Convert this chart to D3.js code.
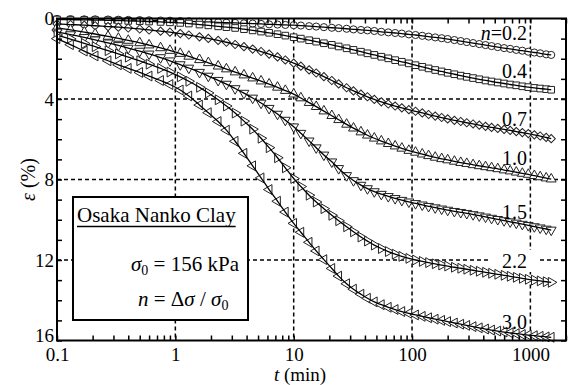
<!DOCTYPE html>
<html>
<head>
<meta charset="utf-8">
<script src="https://cdn.jsdelivr.net/npm/d3@7"></script>
<style>
  body { margin: 0; background: #fff; }
  svg { display: block; }
  text { font-family: "Liberation Serif", "Times New Roman", serif; fill: #000; }
</style>
</head>
<body>
<svg id="chart" width="574" height="385"></svg>
<script>
// Elapsed time of each reading (min)
const times = [0.1,0.13,0.17,0.21,0.27,0.33,0.4,0.5,0.6,0.75,0.9,1.1,1.3,1.6,1.9,2.3,2.7,3.2,3.8,4.5,
  5.3,6.2,7.3,8.5,10,11.5,13.5,15.5,18,21,24,28,32,37,42,48,55,63,72,82,
  94,107,122,138,157,178,200,228,258,290,328,370,418,470,530,600,675,760,855,960,
  1080,1210,1360,1500];

// Axial strain (%) for each load increment ratio n
const strainN02 = [0.02,0.03,0.04,0.04,0.05,0.06,0.07,0.08,0.09,0.10,
  0.11,0.13,0.14,0.16,0.18,0.19,0.21,0.22,0.24,0.25,
  0.27,0.29,0.30,0.32,0.33,0.35,0.38,0.40,0.43,0.46,
  0.48,0.51,0.54,0.57,0.59,0.62,0.66,0.69,0.72,0.75,
  0.79,0.82,0.86,0.90,0.94,0.98,1.02,1.07,1.12,1.17,
  1.22,1.27,1.32,1.37,1.42,1.47,1.51,1.56,1.60,1.65,
  1.69,1.73,1.78,1.81];
const strainN04 = [0.05,0.06,0.07,0.08,0.09,0.10,0.12,0.13,0.15,0.17,
  0.19,0.22,0.25,0.30,0.34,0.39,0.43,0.47,0.53,0.59,
  0.65,0.71,0.78,0.85,0.93,1.00,1.08,1.15,1.23,1.31,
  1.39,1.48,1.56,1.65,1.73,1.81,1.90,1.98,2.07,2.15,
  2.23,2.32,2.40,2.48,2.56,2.63,2.70,2.77,2.84,2.90,
  2.96,3.02,3.08,3.13,3.18,3.23,3.28,3.32,3.37,3.41,
  3.45,3.48,3.51,3.54];
const strainN07 = [0.27,0.30,0.33,0.36,0.40,0.43,0.47,0.52,0.57,0.63,
  0.68,0.75,0.82,0.91,0.99,1.09,1.18,1.29,1.40,1.52,
  1.64,1.77,1.91,2.06,2.22,2.37,2.55,2.71,2.89,3.08,
  3.25,3.44,3.60,3.76,3.89,4.02,4.14,4.25,4.35,4.44,
  4.53,4.61,4.69,4.77,4.85,4.92,4.99,5.06,5.12,5.18,
  5.24,5.30,5.36,5.41,5.46,5.51,5.56,5.62,5.67,5.72,
  5.78,5.84,5.91,5.97];
const strainN10 = [0.47,0.57,0.68,0.77,0.89,0.99,1.09,1.21,1.32,1.46,
  1.59,1.74,1.88,2.05,2.20,2.37,2.51,2.66,2.81,2.96,
  3.11,3.26,3.42,3.58,3.76,3.95,4.18,4.38,4.60,4.83,
  5.03,5.26,5.45,5.64,5.80,5.95,6.09,6.22,6.34,6.45,
  6.56,6.65,6.74,6.82,6.90,6.97,7.03,7.10,7.16,7.21,
  7.27,7.32,7.37,7.42,7.47,7.53,7.58,7.64,7.70,7.75,
  7.81,7.87,7.93,7.98];
const strainN15 = [0.67,0.80,0.94,1.06,1.21,1.34,1.47,1.62,1.76,1.94,
  2.10,2.29,2.46,2.67,2.86,3.07,3.26,3.48,3.71,3.95,
  4.20,4.46,4.75,5.05,5.38,5.70,6.08,6.42,6.78,7.12,
  7.45,7.80,8.05,8.28,8.45,8.60,8.73,8.84,8.94,9.03,
  9.11,9.19,9.26,9.33,9.40,9.46,9.52,9.58,9.63,9.68,
  9.74,9.80,9.86,9.92,9.98,10.04,10.10,10.16,10.22,10.28,
  10.34,10.40,10.46,10.51];
const strainN22 = [0.82,1.02,1.24,1.40,1.60,1.76,1.92,2.10,2.27,2.48,
  2.66,2.90,3.12,3.42,3.70,4.04,4.35,4.70,5.10,5.50,
  5.95,6.42,6.92,7.42,7.95,8.35,8.78,9.12,9.45,9.78,
  10.05,10.35,10.60,10.86,11.06,11.26,11.43,11.58,11.71,11.82,
  11.92,12.00,12.07,12.13,12.19,12.25,12.30,12.36,12.41,12.46,
  12.51,12.56,12.61,12.66,12.71,12.76,12.81,12.86,12.91,12.96,
  13.00,13.04,13.08,13.11];
const strainN30 = [1.00,1.30,1.62,1.86,2.10,2.30,2.48,2.68,2.86,3.08,
  3.28,3.55,3.85,4.30,4.68,5.12,5.55,6.10,6.70,7.32,
  7.92,8.50,9.08,9.62,10.18,10.62,11.12,11.55,11.98,12.42,
  12.80,13.18,13.45,13.70,13.90,14.08,14.22,14.35,14.46,14.56,
  14.65,14.73,14.80,14.87,14.94,15.00,15.06,15.13,15.19,15.25,
  15.31,15.37,15.43,15.48,15.53,15.58,15.62,15.66,15.70,15.73,
  15.76,15.79,15.82,15.84];

const loadRatios = ["0.2", "0.4", "0.7", "1.0", "1.5", "2.2", "3.0"];
const xTickValues = [0.1, 1, 10, 100, 1000];
const yTickValues = [0, 4, 8, 12, 16];

const strainSeries = [strainN02, strainN04, strainN07, strainN10, strainN15, strainN22, strainN30];

// ---- layout ----
const W = 574, H = 385;
const svg = d3.select("#chart");
svg.append("rect").attr("width", W).attr("height", H).attr("fill", "#fff");

const x = d3.scaleLog().domain([0.1, 2000]).range([57, 566]);
const y = d3.scaleLinear().domain([0, 16]).range([18.5, 340.5]);
const [x0, x1] = x.range();
const [y0, y1] = y.range();

// dashed grid at the labelled decades and strains
const grid = svg.append("g")
  .attr("stroke", "#000").attr("stroke-width", 1.5)
  .attr("stroke-dasharray", "4,3").attr("fill", "none");
grid.selectAll("line.vx").data(xTickValues.slice(1)).join("line")
  .attr("x1", d => x(d)).attr("x2", d => x(d))
  .attr("y1", y0).attr("y2", y1);
grid.selectAll("line.hy").data(yTickValues.slice(1, -1)).join("line")
  .attr("x1", x0).attr("x2", x1)
  .attr("y1", d => y(d)).attr("y2", d => y(d));

// white patch behind the n = 2.2 label
svg.append("rect").attr("x", 488).attr("y", 250).attr("width", 52).attr("height", 22).attr("fill", "#fff");

// marker shapes: symbol type and rotation
const markers = [
  { type: d3.symbolCircle, size: 40, rot: 0 },
  { type: d3.symbolSquare, size: 44, rot: 0 },
  { type: d3.symbolSquare, size: 34, rot: 45 },
  { type: d3.symbolTriangle, size: 42, rot: 0 },
  { type: d3.symbolTriangle, size: 42, rot: 180 },
  { type: d3.symbolTriangle, size: 42, rot: 90 },
  { type: d3.symbolTriangle, size: 42, rot: -90 }
];

const curve = d3.line()
  .x(d => x(d[0])).y(d => y(d[1]))
  .curve(d3.curveMonotoneX);

const plot = svg.append("g");
strainSeries.forEach((vals, k) => {
  const pts = times.map((t, i) => [t, vals[i]]);
  const m = markers[k];
  const g = plot.append("g");
  g.selectAll("path.pt").data(pts).join("path")
    .attr("class", "pt")
    .attr("d", d3.symbol().type(m.type).size(m.size))
    .attr("transform", d => `translate(${x(d[0])},${y(d[1])}) rotate(${m.rot})`)
    .attr("fill", "#fff").attr("stroke", "#222").attr("stroke-width", 1);
  g.append("path").attr("d", curve(pts))
    .attr("fill", "none").attr("stroke", "#000").attr("stroke-width", 1.3);
});

// series labels
const labelBase = [40, 78, 126, 165, 219, 268, 329];
loadRatios.forEach((r, k) => {
  const t = svg.append("text")
    .attr("x", 527).attr("y", labelBase[k])
    .attr("text-anchor", "end").attr("font-size", 20);
  if (k === 0) {
    t.append("tspan").attr("font-style", "italic").text("n");
    t.append("tspan").text("=" + r);
  } else {
    t.text(r);
  }
});

// legend box
const lg = svg.append("g");
lg.append("rect").attr("x", 73).attr("y", 197).attr("width", 175).attr("height", 123)
  .attr("fill", "#fff").attr("stroke", "#000").attr("stroke-width", 2);
const title = lg.append("text").attr("x", 77).attr("y", 222).attr("font-size", 21)
  .text("Osaka Nanko Clay");
const tw = title.node().getComputedTextLength();
lg.append("line").attr("x1", 77).attr("x2", 77 + tw).attr("y1", 226.5).attr("y2", 226.5)
  .attr("stroke", "#000").attr("stroke-width", 1.3);
const s0 = lg.append("text").attr("x", 131).attr("y", 271).attr("font-size", 21);
s0.append("tspan").attr("font-style", "italic").text("σ");
s0.append("tspan").attr("font-size", 14).attr("dy", 4).text("0");
s0.append("tspan").attr("dy", -4).text(" = 156 kPa");
const nr = lg.append("text").attr("x", 138).attr("y", 306).attr("font-size", 21);
nr.append("tspan").attr("font-style", "italic").text("n");
nr.append("tspan").text(" = Δ");
nr.append("tspan").attr("font-style", "italic").text("σ");
nr.append("tspan").text(" / ");
nr.append("tspan").attr("font-style", "italic").text("σ");
nr.append("tspan").attr("font-size", 14).attr("dy", 4).text("0");

// axes: inward minor ticks on all four sides
const minorX = x.ticks();
const intY = d3.range(0, 17);
function styleAxis(g) {
  g.select(".domain").remove();
  g.selectAll(".tick line").attr("stroke", "#000").attr("stroke-width", 1.5);
  g.selectAll("text").attr("font-family", "'Liberation Serif', 'Times New Roman', serif")
    .attr("font-size", 19).attr("fill", "#000");
}
svg.append("g").attr("transform", `translate(0,${y1})`)
  .call(d3.axisBottom(x).tickValues(minorX).tickSize(-5).tickFormat("")).call(styleAxis);
svg.append("g").attr("transform", `translate(0,${y0})`)
  .call(d3.axisTop(x).tickValues(minorX).tickSize(-5).tickFormat("")).call(styleAxis);
svg.append("g").attr("transform", `translate(${x0},0)`)
  .call(d3.axisLeft(y).tickValues(intY).tickSize(-5).tickFormat("")).call(styleAxis);
svg.append("g").attr("transform", `translate(${x1},0)`)
  .call(d3.axisRight(y).tickValues(intY).tickSize(-5).tickFormat("")).call(styleAxis);

// labelled ticks
svg.append("g").attr("transform", `translate(0,${y1})`)
  .call(d3.axisBottom(x).tickValues(xTickValues).tickSize(0).tickPadding(7.5)
    .tickFormat(d3.format("~g"))).call(styleAxis);
svg.append("g").attr("transform", `translate(${x0},0)`)
  .call(d3.axisLeft(y).tickValues(yTickValues).tickSize(0).tickPadding(3)
    .tickFormat(d3.format("d"))).call(styleAxis)
  .call(g => g.selectAll("text").attr("dy", d => d === 16 ? "0.05em" : "0.32em"));

// frame
svg.append("rect").attr("x", x0).attr("y", y0).attr("width", x1 - x0).attr("height", y1 - y0)
  .attr("fill", "none").attr("stroke", "#000").attr("stroke-width", 2);

// axis titles
const xt = svg.append("text").attr("x", 300).attr("y", 381).attr("text-anchor", "middle").attr("font-size", 19);
xt.append("tspan").attr("font-style", "italic").text("t");
xt.append("tspan").text(" (min)");
const yt = svg.append("text").attr("transform", `translate(35,${(y0 + y1) / 2}) rotate(-90)`)
  .attr("text-anchor", "middle").attr("font-size", 20);
yt.append("tspan").attr("font-style", "italic").text("ε");
yt.append("tspan").text(" (%)");
</script>
</body>
</html>
